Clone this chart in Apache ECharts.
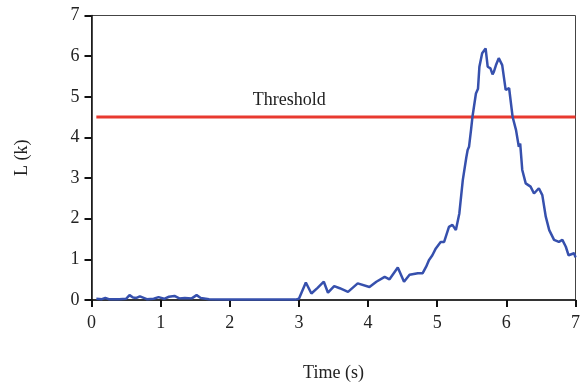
<!DOCTYPE html>
<html>
<head>
<meta charset="utf-8">
<script src="https://cdn.jsdelivr.net/npm/echarts@6/dist/echarts.min.js"></script>
<style>
  html, body { margin: 0; padding: 0; background: #fff; }
  #chart { width: 583px; height: 387px; }
</style>
</head>
<body>
<div id="chart"></div>
<script>
// 时间 (s)
var timeS = [0.07, 0.15, 0.2, 0.25, 0.4, 0.5, 0.55, 0.6, 0.65, 0.7, 0.8, 0.9, 0.97, 1.05, 1.12, 1.2, 1.27, 1.35, 1.45, 1.52, 1.58, 1.7, 2.0, 2.5, 2.95, 3.0,
  3.1, 3.18, 3.27, 3.36, 3.42, 3.51, 3.59, 3.71, 3.85, 4.02, 4.12, 4.24, 4.31, 4.43, 4.52, 4.6, 4.72, 4.79, 4.84, 4.88, 4.93, 4.98, 5.05, 5.1, 5.17, 5.22, 5.27, 5.32, 5.37,
  5.42, 5.44, 5.46, 5.49, 5.51, 5.56, 5.59, 5.61, 5.65, 5.7, 5.73, 5.77, 5.8, 5.82, 5.85, 5.89, 5.94, 5.99, 6.04, 6.09, 6.14, 6.18, 6.2, 6.23, 6.28, 6.35, 6.4, 6.47, 6.52, 6.57, 6.62, 6.69, 6.76, 6.81, 6.86, 6.9, 6.98, 7.0];
// L (k)
var loadK = [0.03, 0.02, 0.05, 0.02, 0.02, 0.03, 0.12, 0.06, 0.05, 0.09, 0.02, 0.03, 0.07, 0.03, 0.08, 0.1, 0.04, 0.05, 0.04, 0.12, 0.05, 0.02, 0.01, 0.01, 0.01, 0.03,
  0.43, 0.16, 0.3, 0.45, 0.18, 0.34, 0.29, 0.2, 0.41, 0.32, 0.45, 0.57, 0.51, 0.8, 0.45, 0.62, 0.66, 0.66, 0.82, 0.98, 1.1, 1.27, 1.43, 1.43, 1.8, 1.85, 1.72, 2.13, 2.95,
  3.5, 3.69, 3.77, 4.2, 4.51, 5.08, 5.2, 5.74, 6.07, 6.19, 5.74, 5.7, 5.55, 5.62, 5.78, 5.95, 5.78, 5.17, 5.21, 4.51, 4.18, 3.77, 3.85, 3.2, 2.87, 2.79, 2.62, 2.75, 2.58, 2.05, 1.72, 1.48, 1.43, 1.48, 1.31, 1.1, 1.15, 1.05];
var thresholdX = [0.07, 7];
var thresholdY = [4.5, 4.5];
var xTicks = [0, 1, 2, 3, 4, 5, 6, 7];
var yTicks = [0, 1, 2, 3, 4, 5, 6, 7];

var serif = "Liberation Serif";
var chart = echarts.init(document.getElementById("chart"));

chart.setOption({
  animation: false,
  grid: {
    left: 91.5, right: 7, top: 15.5, bottom: 87,
    show: true, borderColor: "#444", borderWidth: 1
  },
  xAxis: {
    type: "value", min: xTicks[0], max: xTicks[xTicks.length - 1], interval: 1,
    name: "Time (s)", nameLocation: "middle", nameGap: 64,
    nameTextStyle: { fontFamily: serif, fontSize: 18, color: "#222" },
    axisLine: { lineStyle: { color: "#111", width: 1.5 } },
    axisTick: { length: 7, lineStyle: { color: "#111", width: 2 } },
    axisLabel: { fontFamily: serif, fontSize: 18, color: "#222", margin: 14 },
    splitLine: { show: false }
  },
  yAxis: {
    type: "value", min: yTicks[0], max: yTicks[yTicks.length - 1], interval: 1,
    name: "L (k)", nameLocation: "middle", nameGap: 60,
    nameTextStyle: { fontFamily: serif, fontSize: 18, color: "#222" },
    axisLine: { show: true, lineStyle: { color: "#111", width: 1.5 } },
    axisTick: { show: true, length: 7, lineStyle: { color: "#111", width: 2 } },
    axisLabel: { fontFamily: serif, fontSize: 18, color: "#222", margin: 12 },
    splitLine: { show: false }
  },
  series: [
    {
      type: "line",
      data: thresholdX.map(function (x, i) { return [x, thresholdY[i]]; }),
      symbol: "none",
      lineStyle: { color: "#e8392f", width: 3 },
      markPoint: {
        symbolSize: 0,
        data: [{ coord: [2.86, 4.92] }],
        label: {
          show: true, formatter: "Threshold", position: "inside",
          fontFamily: serif, fontSize: 18, color: "#222"
        }
      }
    },
    {
      type: "line",
      data: timeS.map(function (x, i) { return [x, loadK[i]]; }),
      symbol: "none",
      lineStyle: { color: "#3650ad", width: 2.5 }
    }
  ]
});
</script>
</body>
</html>
